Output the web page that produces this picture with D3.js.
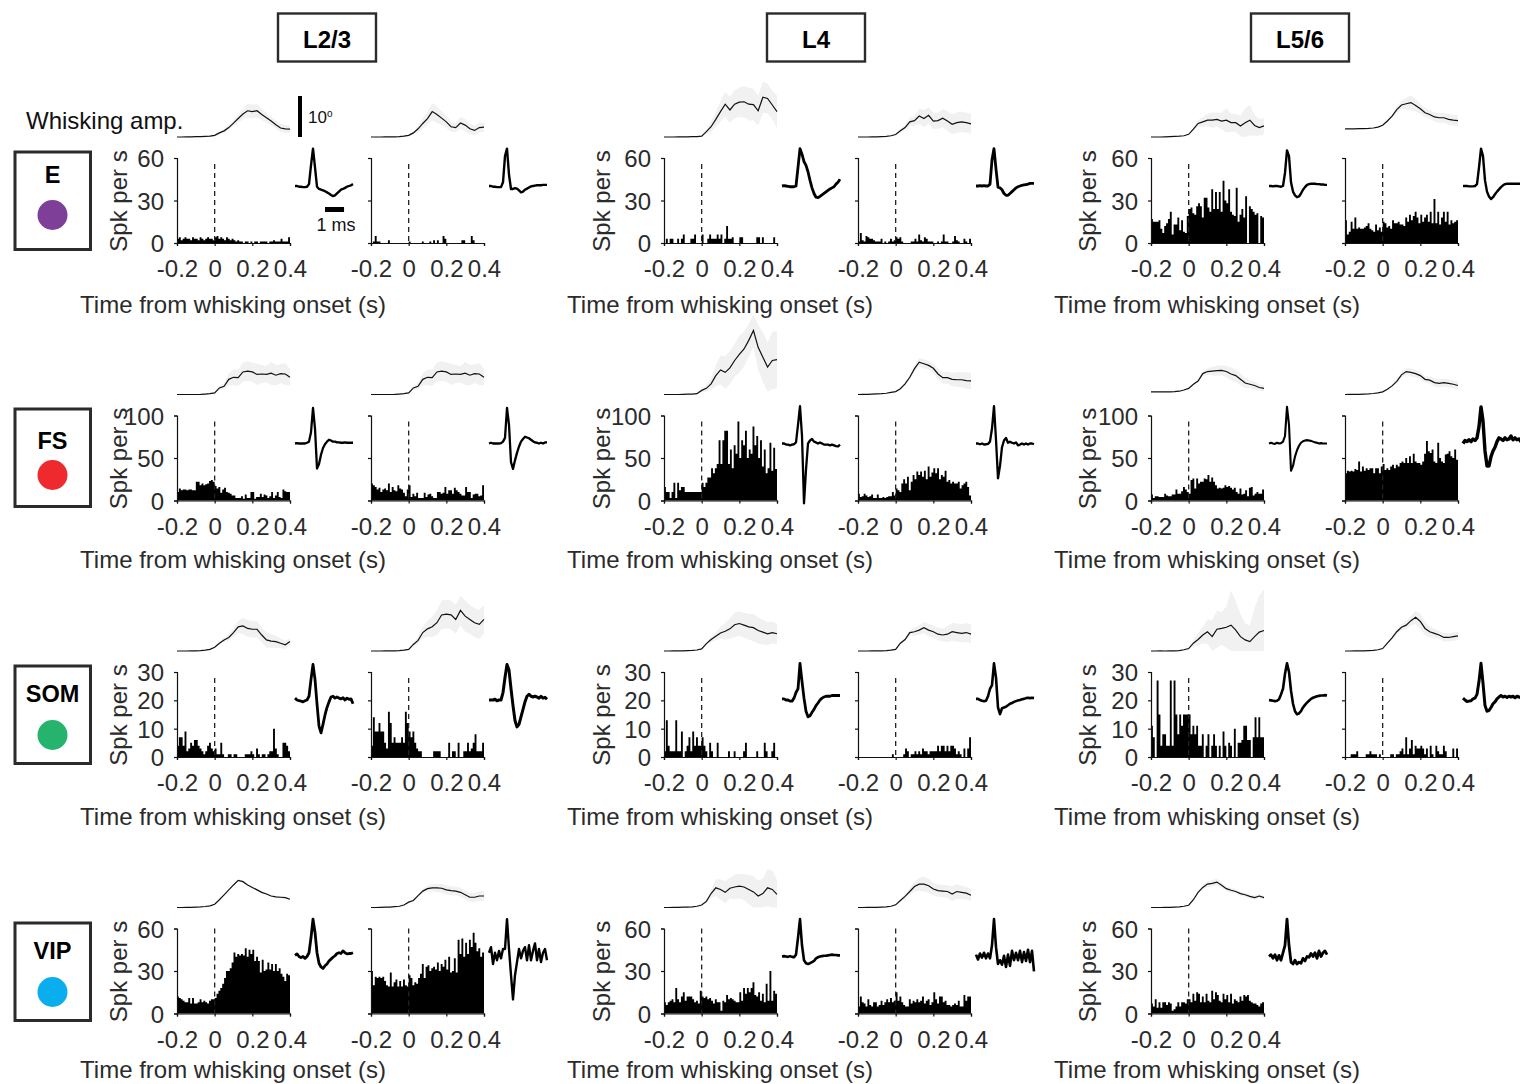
<!DOCTYPE html>
<html>
<head>
<meta charset="utf-8">
<title>Whisking onset PSTH</title>
<script src="https://cdn.jsdelivr.net/npm/d3@7"></script>
<style>
  html, body { margin: 0; padding: 0; background: #fff; }
  text { font-family: "Liberation Sans", Arial, sans-serif; fill: #2b2b2b; }
</style>
</head>
<body>
<div id="chart"></div>
<script>
const layers = ["L2/3", "L4", "L5/6"];
const cellTypes = ["E", "FS", "SOM", "VIP"];
const cellColors = ["#7d3f98", "#ee2a2e", "#26b36e", "#0aaeef"];
const yTicks = [[0, 30, 60], [0, 50, 100], [0, 10, 20, 30], [0, 30, 60]];
const xTicks = [-0.2, 0, 0.2, 0.4];

// spikes per s, 10 ms bins from -0.2 to 0.4 s
const histE = [
  [3,4,2,3,4,3,3,2,4,3,3,2,4,3,2,3,4,3,3,2,4,5,3,4,3,2,4,3,2,3,2,1,2,1,1,0,1,1,0,1,0,1,1,0,1,1,1,1,0,1,1,2,1,1,1,3,1,1,1,4],
  [0,1,5,1,1,0,0,0,0,2,0,0,0,0,0,0,0,0,0,0,1,0,0,0,0,0,0,1,0,0,0,1,0,2,0,2,0,0,5,3,0,0,0,0,0,0,0,0,2,2,0,0,0,5,2,0,0,0,0,0],
  [0,3,0,3,3,0,0,3,0,3,6,0,0,0,3,3,6,0,0,0,6,0,0,3,6,3,3,3,6,3,6,0,3,12,3,3,4,0,0,0,4,4,0,0,0,0,0,0,0,4,4,0,4,0,0,0,0,0,4,0],
  [1,7,2,1,5,4,3,3,2,1,1,1,3,0,1,0,1,3,1,2,4,3,4,1,0,0,0,0,1,1,3,1,6,2,1,4,3,1,1,1,0,0,1,0,1,6,1,1,0,0,1,5,2,1,0,0,3,1,0,3],
  [17,15,15,15,16,10,7,12,14,17,22,6,13,13,18,9,16,8,7,19,24,25,21,20,26,28,26,18,32,32,25,22,38,24,36,24,36,22,44,30,28,38,22,20,19,39,15,20,24,18,33,0,26,24,22,20,21,0,19,18],
  [16,6,8,15,10,18,10,11,10,10,11,12,14,10,9,8,13,9,11,8,15,14,11,12,10,16,14,14,15,13,13,12,18,15,20,16,19,22,18,14,20,15,18,20,15,22,14,31,14,22,13,18,22,15,22,13,16,14,15,16]
];
const histFS = [
  [10,14,12,13,13,12,13,13,12,12,22,22,18,20,18,19,20,23,24,22,17,14,16,9,13,15,10,9,8,6,6,3,3,3,5,2,7,3,3,10,10,2,4,4,8,4,7,6,3,5,10,3,6,10,4,3,13,11,10,10],
  [20,18,16,13,15,10,13,14,12,20,10,16,12,11,18,14,13,9,5,13,18,4,8,5,9,3,3,3,9,4,7,8,5,3,3,10,10,8,9,16,8,12,12,8,15,12,10,8,6,6,16,10,10,3,7,8,8,5,6,18],
  [16,10,10,3,10,21,3,21,12,16,16,10,10,10,10,10,10,10,10,10,21,16,21,27,27,38,32,38,43,71,43,71,82,82,43,60,38,65,55,93,50,71,65,82,50,60,55,87,65,76,50,71,40,60,32,38,68,35,62,37],
  [8,4,5,8,6,4,5,7,3,3,7,3,3,4,3,4,5,5,10,6,14,12,10,20,25,20,28,12,22,30,25,34,30,34,28,35,25,40,28,33,38,32,38,25,30,28,35,22,24,20,22,20,20,22,14,18,20,22,16,6],
  [7,3,5,5,4,4,4,8,6,5,5,7,7,13,8,8,11,16,13,10,8,24,26,14,26,20,22,22,26,25,30,22,27,22,18,14,15,14,15,18,16,17,15,13,15,10,8,14,7,8,12,5,15,16,6,8,10,8,8,13],
  [32,35,34,35,34,37,36,46,34,40,35,38,36,38,38,32,38,38,32,40,43,36,38,36,40,42,38,42,40,44,46,44,50,44,52,44,55,46,44,44,42,46,55,70,58,56,60,46,44,68,50,46,44,54,55,58,52,50,60,48]
];
const histSOM = [
  [4,7,7,4,9,2,3,5,4,6,6,4,3,2,1,2,4,5,3,2,3,1,1,5,1,0,0,1,1,0,1,1,0,0,0,0,1,1,1,2,1,0,3,1,0,1,1,0,1,2,2,10,3,1,0,0,5,5,4,2],
  [4,14,9,9,12,9,9,5,3,16,12,5,7,5,5,5,7,5,16,12,9,7,9,5,3,2,2,0,0,0,0,0,0,2,2,2,2,0,0,0,0,5,0,2,2,0,5,0,0,2,2,5,2,3,5,8,2,2,2,5],
  [2,13,4,2,2,2,13,2,2,9,0,2,4,7,2,9,4,7,4,4,7,4,2,0,5,2,0,0,5,0,0,0,0,0,2,0,0,2,0,0,0,0,2,5,0,0,0,0,0,2,0,0,0,5,2,0,0,2,5,0],
  [0,0,0,0,0,0,0,0,0,0,0,0,0,0,0,0,0,0,1,0,0,0,0,0,1,3,2,0,1,1,2,1,2,1,3,2,2,1,2,2,2,2,4,2,4,4,2,4,2,4,4,3,1,2,1,0,3,0,3,7],
  [11,7,0,27,15,4,8,8,4,4,27,4,27,15,8,15,11,15,15,15,15,8,11,8,11,4,4,8,0,4,8,0,4,8,4,0,4,0,9,4,0,5,4,0,10,0,5,5,6,11,11,6,6,0,7,14,7,14,7,7],
  [0,0,0,1,1,1,2,0,0,0,0,1,1,2,1,1,1,0,1,0,0,0,0,0,1,1,0,1,1,2,3,1,7,1,3,6,1,4,3,3,4,3,1,3,0,4,1,0,4,2,1,1,4,2,0,0,0,3,0,3]
];
const histVIP = [
  [12,11,10,9,8,8,11,7,11,7,7,8,10,8,9,8,7,9,10,10,11,14,16,18,21,25,30,30,32,36,43,40,42,41,42,41,46,40,45,42,45,37,40,37,29,38,30,31,36,31,35,30,35,30,32,28,26,23,28,27],
  [30,20,26,25,26,25,26,23,20,19,29,19,22,24,19,23,19,24,20,19,27,25,20,22,21,25,28,35,25,33,34,30,32,33,31,36,30,35,33,38,31,40,29,30,39,29,52,42,53,40,50,42,52,47,57,50,44,46,40,43],
  [8,6,8,9,10,8,18,10,8,12,15,9,12,12,12,10,8,9,7,16,12,11,12,10,11,9,7,10,8,8,2,9,8,13,10,11,10,9,8,8,15,9,18,14,18,15,18,22,13,12,15,9,14,8,21,9,30,9,16,14],
  [5,12,8,7,5,10,6,5,8,8,5,6,9,6,8,10,8,11,8,9,15,9,12,8,6,5,5,10,7,9,8,10,8,9,12,7,9,10,6,8,15,10,7,12,12,8,9,6,6,5,6,7,6,9,5,5,13,9,12,12],
  [7,5,10,4,8,4,8,8,6,8,7,2,3,5,8,5,8,8,7,10,10,8,14,9,15,14,8,12,8,14,9,8,16,10,15,13,9,8,14,10,13,8,14,7,10,9,8,12,9,13,12,13,9,8,7,7,6,5,7,8]
];

// whisking amplitude in degrees, 25 ms steps from -0.2 to 0.4 s
const whiskE = [
  [0,0,.05,.05,.1,.1,.15,.2,.4,1,1.5,2.3,3.4,4.5,5.6,6.4,6.2,6.4,5.5,4.7,3.9,3,2.2,2,1.9],
  [0,0,0,.02,.05,.05,.1,.2,.4,1,2,3.3,4.5,6.2,5.5,4.6,3.7,2.5,2.3,3.4,2.9,2,1.6,2.3,2.4],
  [0,0,0,.05,.05,.05,.1,.1,.2,1.3,2.5,4.3,6.2,8,6.6,8,8.5,8.6,8,7.9,6.4,9.7,9.4,7.8,6.2],
  [0,0,0,.05,.05,.1,.15,.3,.6,1.5,2.3,3.7,4,5.1,4.5,5.3,3.9,4,4.6,3.9,3.1,3.5,3.7,3.5,3.2],
  [0,0,0,.05,.1,.15,.2,.3,.65,1.9,3.3,3.7,4.1,4.1,4.3,3.9,4.1,3.5,3.5,2.7,3.5,4.1,2.8,2.3,2.7],
  [2,2,2,2.05,2.05,2.1,2.2,2.4,2.85,3.9,5.1,6.7,7.8,8.1,8.4,7.7,6.9,5.9,5.5,4.9,4.7,4.7,4.3,4.1,4]
];
const bandE = [
  [0,0,0,0,0,0,0,.1,.2,.3,.4,.6,.8,1,1.3,1.8,1.7,1.6,1.4,1.2,1,1,1,1,.9],
  [0,0,0,0,0,0,0,.1,.2,.4,.8,1.2,1.6,2.1,2,1.7,1.5,1.2,1.1,1.5,1.4,1.3,1.2,1.2,1.1],
  [0,0,0,0,0,0,0,.1,.2,.5,1.2,1.8,2.5,3,3.2,3.4,3.6,3.8,4,3.8,3.6,3.8,3.6,3.5,4],
  [0,0,0,0,0,0,0,.1,.2,.4,.7,1,1.2,1.8,2.1,2,2,2,2.2,2.4,2.4,2.5,2.5,2.4,2.4],
  [0,0,0,0,0,0,0,0,.1,.4,.8,1.2,1.5,1.9,1.7,2,3,2.2,2.2,2.5,3.5,3.7,2.5,2,2],
  [0,0,0,0,0,0,0,.1,.2,.3,.4,.8,1,1.4,1.8,1.5,1.2,1.1,1,1.1,1.2,1.2,1.3,1.3,1.4]
];
const whiskFS = [
  [0,0,0,0,0,.02,.1,.2,.4,1.6,2,3.7,4.2,4.1,5.5,5.7,5.5,4.9,5,4.9,5.2,4.7,5.1,5,4.2],
  [0,0,0,0,0,.02,.1,.2,.4,1.6,2,3.7,4.2,4.1,5.5,5.7,5.5,4.9,5,4.9,5.2,4.7,5.1,5,4.2],
  [0,0,0,0,.05,.1,.1,.2,1,1.5,2.6,4.6,6,5.4,6.5,8.3,9.8,11.1,13.2,15.6,11.5,9.1,6.7,8.3,8.5],
  [0,.02,.05,.1,.15,.2,.3,.5,.7,1.4,2.6,4.2,6.3,7.9,7.5,7.1,6.4,5,4.1,4.1,3.7,3.6,3.6,3.4,3.3],
  [.65,.65,.65,.65,.65,.7,.8,1.1,1.5,2.5,3.3,5.1,5.6,5.7,5.8,5.9,5.6,5,4.6,3.7,2.8,2.5,2.2,1.7,1.5],
  [0,.02,.05,.05,.1,.15,.25,.4,.65,1.3,2.1,3.2,4.8,5.6,5.4,5.1,4.6,3.7,3.5,2.9,2.7,2.9,2.7,2.5,2.2]
];
const bandFS = [
  [0,0,0,0,0,0,0,.1,.2,.5,.8,1.5,1.9,2,2.3,2.4,2.3,2.6,2.2,2,2.8,2.5,2.3,2.7,2],
  [0,0,0,0,0,0,0,.1,.2,.5,.8,1.5,1.9,2,2.3,2.4,2.3,2.6,2.2,2,2.8,2.5,2.3,2.7,2],
  [0,0,0,0,0,0,0,.1,.4,.8,1.5,2.5,3.5,4,4,4,4.5,4.2,4,4,5.5,6,6,7,7],
  [0,0,0,0,0,0,0,0,.1,.2,.4,.6,.8,1,1.1,1,1.2,1.2,1.4,1.5,1.6,1.8,1.8,2,2],
  [0,0,0,0,0,0,0,0,.1,.2,.4,.6,.8,1,1.2,1.2,1.4,1.6,1.5,1.5,1.2,1,1,.8,.7],
  [0,0,0,0,0,0,0,0,.1,.2,.3,.5,.7,.8,1,.9,.9,.8,.9,1,1,1,1,1,1]
];
const whiskSOM = [
  [0,0,0,.05,.05,.1,.2,.4,.9,1.9,2.7,3.3,4.5,5.9,6.1,5.5,5.3,5.3,3.9,2.7,2.4,2.3,1.9,1.5,2.3],
  [0,0,0,.02,.05,.05,.1,.2,.4,1.6,2.6,4.5,5.4,5.9,6.9,8.8,9,8.8,7.7,9.9,8.5,7.7,6.9,6.5,7.7],
  [0,0,.02,.05,.05,.1,.15,.25,.5,1.8,2.8,3.6,4.4,4.8,5.4,6.4,6.7,6.3,5.9,5.7,5,4.6,4.2,4.5,4.2],
  [0,0,0,.02,.05,.05,.1,.2,.4,1.9,2.8,4.5,4.7,5.1,5.7,5.1,4.7,4.1,3.9,4.1,4.7,4.5,4.3,4.5,4.1],
  [0,0,.05,0,.02,.05,.1,.3,.6,1.9,2.8,3.9,4.7,3.5,5.3,5.5,5.8,6.3,5.1,3.5,2.7,2.3,3.5,4.6,5],
  [0,0,.02,.05,.05,.1,.15,.3,.6,1.9,3.2,4.7,5.8,6.3,7.4,8.2,7.2,5.5,4.7,4.3,3.9,3.3,3.3,3.5,3.7]
];
const bandSOM = [
  [0,0,0,0,0,0,0,0,.1,.3,.5,.8,1,1.5,2,2,2,2,1.8,1.9,1.6,1.5,1.2,1,.8],
  [0,0,0,0,0,0,0,0,.1,.4,.8,1.4,2,2.5,3,3.5,3.5,3.5,3.5,3.6,3.8,3.5,3.5,3.5,3.5],
  [0,0,0,0,0,0,0,0,.1,.3,.6,1,1.5,2,2.5,3,3,3,3.1,3.3,3.2,3,2.8,2.7,2.5],
  [0,0,0,0,0,0,0,0,.1,.2,.4,.6,1,1.2,1.4,1.5,1.5,1.5,1.5,1.9,2.2,2.2,2.2,2.3,2.3],
  [0,0,0,0,0,0,0,.1,.3,.8,1.5,2,3,4,4.5,4,5,8.5,7,5.5,4,4,7,9,10],
  [0,0,0,0,0,0,0,0,.1,.2,.4,.6,.8,1,1.2,1.6,1.9,1.6,1.3,1.1,1,1,1,1,1]
];
const whiskVIP = [
  [0,0,.02,.05,.1,.15,.25,.4,.8,1.9,3.1,4.3,5.5,6.6,6.3,5.5,4.9,4.3,3.7,3.3,2.8,2.6,2.5,2.4,2],
  [0,0,.05,.1,.1,.2,.3,.6,1.3,1.7,2.9,4,4.6,4.8,4.8,4.7,4.3,4.1,4,3.7,3.1,2.5,2.5,2.8,2.8],
  [0,0,.05,.05,.1,.1,.15,.3,.6,1.5,3.4,4.8,4.4,3.7,4.7,5,5.2,5,4.4,3.8,2.8,3.4,4.8,4.4,3.2],
  [0,0,.02,.05,.05,.1,.15,.3,.65,1.7,2.7,3.9,5.1,5.7,5.7,5.3,4.5,4.1,4,3.9,3.3,3.9,3.7,3.5,3],
  [0,0,0,.02,.05,.1,.15,.3,.55,1.9,3.7,4.9,5.7,5.9,6.2,5.4,4.6,4.2,3.9,3.4,3.1,2.7,2.4,2.8,2.4]
];
const bandVIP = [
  [0,0,0,0,0,0,0,0,0,.1,.1,.1,.2,.2,.2,.2,.2,.2,.2,.2,.2,.2,.2,.2,.2],
  [0,0,0,0,0,0,0,0,.1,.2,.3,.5,.7,.9,1,1.1,1.1,1.1,1.1,1.1,1.1,1.1,1.1,1.2,1.3],
  [0,0,0,0,0,0,0,0,.2,.5,1,2,2.5,2.7,2.5,3,3,3.2,3.6,3.8,3.8,3.6,4.5,4.7,3.5],
  [0,0,0,0,0,0,0,0,.1,.3,.5,.8,1.2,1.6,1.8,1.7,1.5,1.5,1.5,1.5,1.8,1.8,1.6,1.5,1.5],
  [0,0,0,0,0,0,0,0,.1,.2,.3,.5,.7,.8,.8,.7,.6,.6,.5,.5,.5,.5,.5,.5,.4]
];

// spike waveforms, 0.105 ms per sample, spike peak = 1
const waveE = [
  [0,0,-.02,-.02,-.03,-.03,-.02,.05,.55,1,.5,-.02,-.08,-.1,-.12,-.14,-.17,-.2,-.24,-.27,-.25,-.2,-.15,-.1,-.08,-.05,-.02,0,.02,.05],
  [0,0,-.02,-.02,-.03,-.03,-.03,.1,.8,1,.3,-.08,-.08,-.06,-.07,-.12,-.17,-.15,-.1,-.07,-.04,-.01,0,.01,.02,.02,.02,.03,.03,.03],
  [0,.01,0,-.01,-.02,-.02,-.02,0,.5,1,.85,.65,.55,.38,.15,-.05,-.2,-.3,-.31,-.28,-.24,-.2,-.16,-.12,-.08,-.05,-.02,.05,.1,.18],
  [0,0,.01,0,.01,0,0,.05,.7,1,.45,-.03,-.05,-.1,-.2,-.25,-.25,-.2,-.15,-.1,-.05,-.02,0,.02,.03,.04,.05,.07,.07,.07],
  [0,0,-.01,0,0,-.01,-.02,0,.35,.95,.8,.1,-.15,-.25,-.3,-.28,-.2,-.1,-.03,.03,.05,.06,.06,.06,.05,.05,.04,.04,.03,.03],
  [0,0,0,-.01,-.01,-.01,0,.05,.5,1,.8,.15,-.15,-.28,-.35,-.3,-.22,-.15,-.09,-.03,.02,.05,.06,.06,.06,.06,.06,.06,.06,.06]
];
const waveFS = [
  [0,.01,0,0,0,0,.02,.05,.3,.95,.4,-.67,-.55,-.3,-.12,-.02,.05,.1,.08,.05,.05,.03,.03,.02,.02,.03,.02,.02,.02,.02],
  [0,.02,0,0,0,0,.01,.05,.15,.95,.5,-.5,-.68,-.45,-.25,-.08,.05,.12,.18,.16,.14,.1,.06,.03,.02,0,.02,0,.03,.03],
  [0,0,-.03,-.03,-.05,-.03,-.02,.03,.5,1,.2,-1.6,-.7,0,.08,.12,.05,.03,0,.03,0,-.03,-.03,-.03,-.05,-.03,-.05,-.07,-.08,-.03],
  [0,0,-.02,0,-.03,-.02,-.01,.05,.4,1,.1,-.93,-.6,-.1,.08,.15,.02,.05,.02,0,.03,-.05,-.03,0,-.03,0,-.03,0,0,-.02],
  [0,.02,0,-.01,.02,0,.01,.05,.2,.98,.5,-.73,-.6,-.35,-.18,-.06,.02,.06,.08,.09,.08,.07,.05,.03,.02,0,.01,0,0,0],
  [0,.08,.05,.1,.05,.12,.08,.15,.45,.98,.6,-.2,-.6,-.6,-.35,-.2,-.1,.05,.15,.12,.08,.15,.1,.12,.2,.1,.15,.1,.12,.05]
];
const waveSOM = [
  [.05,0,-.02,-.03,-.05,-.02,0,.1,.55,.95,.55,-.1,-.7,-.88,-.65,-.4,-.2,-.05,.08,.1,.05,.08,.05,.03,.06,0,.05,.02,.03,-.1],
  [0,0,0,.02,-.02,0,0,.2,.6,.95,.8,.3,-.15,-.55,-.72,-.65,-.45,-.25,-.05,.1,.15,.1,.08,.1,.08,.05,.1,.05,.07,.02],
  [.03,.03,0,0,-.03,-.03,.05,.2,.3,.98,.5,.05,-.3,-.45,-.42,-.33,-.25,-.15,-.08,0,.05,.08,.1,.1,.1,.12,.12,.12,.12,.12],
  [.03,.03,0,-.02,-.03,-.02,.1,.3,.4,.98,.6,-.2,-.38,-.22,-.2,-.18,-.14,-.1,-.08,-.05,-.03,-.01,0,.02,.03,.05,.06,.05,.06,.05],
  [0,-.01,-.02,-.03,-.02,.02,.15,.3,.7,.98,.75,.25,-.1,-.3,-.38,-.36,-.3,-.2,-.13,-.07,-.02,.03,.06,.08,.1,.11,.12,.12,.13,.12],
  [.05,0,-.04,-.03,-.02,.03,.05,.15,.5,.98,.45,-.15,-.3,-.28,-.2,-.1,-.05,.03,.08,.12,.08,.1,.07,.1,.08,.1,.06,.1,.08,.06]
];
const waveVIP = [
  [.03,.07,0,-.03,0,-.05,0,.1,.5,1,.65,.1,-.18,-.28,-.32,-.25,-.2,-.12,-.07,-.02,.02,.08,.1,.08,.15,.1,.07,.08,.08,.1],
  [.1,.25,-.2,.1,-.1,.15,-.05,.2,.2,1,.2,-.5,-1.15,-.5,-.15,.2,-.05,.15,.25,-.1,.3,-.1,.15,.35,-.1,.2,-.15,.1,.2,-.1],
  [0,.01,0,-.01,.01,-.01,-.02,.05,.5,1,.3,-.1,-.18,-.2,-.18,-.15,-.12,-.05,-.02,0,.01,.02,.02,.03,.04,.05,.04,.04,.03,.03],
  [.05,-.08,.08,-.03,.1,-.05,.08,-.05,.3,1,.25,-.2,-.1,-.22,.02,-.28,.05,-.25,.15,-.1,.1,-.1,.15,-.15,.12,-.12,.18,-.15,.15,-.4],
  [0,.05,-.05,.05,-.1,.03,-.1,.1,.3,1,.3,-.15,-.2,-.1,-.2,-.15,-.18,-.05,-.12,0,-.02,.08,0,.1,-.05,.15,0,.1,.15,.05]
];
const waveStroke = [
  [2.4, 2.4, 2.8, 2.8, 2.4, 2.4],
  [2.3, 2.3, 2.3, 2.3, 2.1, 3.4],
  [2.8, 3, 2.8, 2.6, 2.6, 3],
  [2.8, 2.4, 2.6, 2.6, 2.8]
];

const hists = [histE, histFS, histSOM, histVIP];
const whisks = [whiskE, whiskFS, whiskSOM, whiskVIP];
const bands = [bandE, bandFS, bandSOM, bandVIP];
const waves = [waveE, waveFS, waveSOM, waveVIP];

const width = 1520, height = 1084;
const panelLeft = [177, 371, 664, 858, 1151, 1345];
const rowTop = [158, 415.5, 672, 928.5];
const panelW = 113, panelH = 85;
const boxTop = [152, 409, 666, 923];
const boxLabelOff = [31, 40, 36, 36];
const boxDotOff = [63, 66, 69, 69];
const xLabelOff = [70, 67, 67.5, 64.5];
const yLabelX = [120, 603, 1089];
const dashTop = [6, 6, 6, 0];
const fontSize = 24;

const svg = d3.select("#chart").append("svg")
  .attr("width", width)
  .attr("height", height);

// layer headers
[[278, 98], [767, 98], [1251, 98]].forEach(function(b, i) {
  svg.append("rect")
    .attr("x", b[0]).attr("y", 13.5)
    .attr("width", b[1]).attr("height", 48)
    .attr("fill", "none").attr("stroke", "#2b2b2b").attr("stroke-width", 2.4);
  svg.append("text")
    .attr("x", b[0] + b[1] / 2).attr("y", 48)
    .attr("text-anchor", "middle")
    .attr("font-size", 24).attr("font-weight", "bold")
    .style("fill", "#000")
    .text(layers[i]);
});

const x = d3.scaleLinear().domain([-0.2, 0.4]).range([0, panelW]);
const binTimes = d3.range(61).map(function(i) { return -0.2 + i * 0.01; });
const whiskTimes = d3.range(25).map(function(i) { return -0.2 + i * 0.025; });
const yWhisk = d3.scaleLinear().domain([0, 10]).range([0, -41]);
const xWave = d3.scaleLinear().domain([0, 29]).range([0, 58]);
const yWave = d3.scaleLinear().domain([0, 1]).range([0, -37.4]);

const whiskLine = d3.line().x(function(d, i) { return x(whiskTimes[i]); }).y(function(d) { return yWhisk(d); });
const waveLine = d3.line().x(function(d, i) { return xWave(i); }).y(function(d) { return yWave(d); });

cellTypes.forEach(function(cell, r) {
  const top = rowTop[r];
  const y = d3.scaleLinear().domain([0, d3.max(yTicks[r])]).range([panelH, 0]);

  // cell type box
  svg.append("rect")
    .attr("x", 15).attr("y", boxTop[r])
    .attr("width", 75.5).attr("height", 97.5)
    .attr("fill", "none").attr("stroke", "#2b2b2b").attr("stroke-width", 3);
  svg.append("text")
    .attr("x", 52.5).attr("y", boxTop[r] + boxLabelOff[r])
    .attr("text-anchor", "middle")
    .attr("font-size", 23.5).attr("font-weight", "bold")
    .style("fill", "#000")
    .text(cell);
  svg.append("circle")
    .attr("cx", 52.5).attr("cy", boxTop[r] + boxDotOff[r])
    .attr("r", 15)
    .attr("fill", cellColors[r]);

  hists[r].forEach(function(values, p) {
    const left = panelLeft[p];
    const g = svg.append("g").attr("transform", "translate(" + left + "," + top + ")");

    // whisking amplitude with shaded error
    const w = g.append("g").attr("transform", "translate(0,-21)");
    const area = d3.area()
      .x(function(d, i) { return x(whiskTimes[i]); })
      .y0(function(d, i) { return yWhisk(Math.max(0, whisks[r][p][i] - d)); })
      .y1(function(d, i) { return yWhisk(whisks[r][p][i] + d); });
    w.append("path").attr("d", area(bands[r][p])).attr("fill", "#f1f1f1");
    w.append("path").attr("d", whiskLine(whisks[r][p]))
      .attr("fill", "none").attr("stroke", "#111").attr("stroke-width", 1.2);

    // histogram, one step outline so dense bins stay solid
    const histArea = d3.area()
      .curve(d3.curveStepAfter)
      .x(function(d, i) { return x(binTimes[i]); })
      .y0(y(0))
      .y1(function(d) { return y(d); });
    g.append("path")
      .attr("d", histArea(values.concat(values[values.length - 1])))
      .attr("fill", "#000");

    // axes
    const xAxis = d3.axisBottom(x).tickValues(xTicks).tickSize(3).tickPadding(14)
      .tickFormat(function(d) { return d === 0 ? "0" : String(d); });
    const gx = g.append("g").attr("transform", "translate(0," + panelH + ")").call(xAxis);
    gx.selectAll("text").attr("font-size", fontSize).style("font-family", '"Liberation Sans", Arial, sans-serif');
    const yAxis = d3.axisLeft(y).tickValues(yTicks[r]).tickSize(3).tickPadding(10);
    if (p % 2 === 1) yAxis.tickFormat("");
    const gy = g.append("g").call(yAxis);
    gy.selectAll("text").attr("font-size", fontSize).style("font-family", '"Liberation Sans", Arial, sans-serif');
    gy.selectAll(".tick text").attr("dy", "0.36em");
    [gx, gy].forEach(function(a) {
      a.selectAll("path").attr("stroke", "#111").attr("stroke-width", 1.2);
      a.selectAll("line").attr("stroke", "#111").attr("stroke-width", 1.2);
    });

    // whisking onset marker
    g.append("line")
      .attr("x1", x(0)).attr("x2", x(0))
      .attr("y1", dashTop[r]).attr("y2", panelH)
      .attr("stroke", "#222").attr("stroke-width", 1.3)
      .attr("stroke-dasharray", "5,4");

    // spike waveform
    g.append("path")
      .attr("transform", "translate(" + (panelW + 5) + ",28)")
      .attr("d", waveLine(waves[r][p]))
      .attr("fill", "none").attr("stroke", "#000")
      .attr("stroke-width", waveStroke[r][p]).attr("stroke-linejoin", "round");
  });

  // y and x labels, one per layer
  layers.forEach(function(l, c) {
    svg.append("text")
      .attr("transform", "translate(" + (yLabelX[c] + 7) + "," + (top + 43) + ") rotate(-90)")
      .attr("text-anchor", "middle")
      .attr("font-size", fontSize)
      .text("Spk per s");
    svg.append("text")
      .attr("x", panelLeft[c * 2] + 56).attr("y", top + panelH + xLabelOff[r])
      .attr("text-anchor", "middle")
      .attr("font-size", fontSize)
      .text("Time from whisking onset (s)");
  });
});

// annotations
svg.append("text").attr("x", 26).attr("y", 129).attr("font-size", 24).style("fill", "#111").text("Whisking amp.");
svg.append("rect").attr("x", 298).attr("y", 96).attr("width", 4).attr("height", yWhisk(0) - yWhisk(10)).attr("fill", "#000");
const deg = svg.append("text").attr("x", 308).attr("y", 123).attr("font-size", 17).style("fill", "#111");
deg.append("tspan").text("10");
deg.append("tspan").attr("dy", -6).attr("font-size", 10).text("o");
svg.append("rect").attr("x", 325).attr("y", 207).attr("width", xWave(1 / 0.105)).attr("height", 5).attr("fill", "#000");
svg.append("text").attr("x", 336).attr("y", 231).attr("text-anchor", "middle").attr("font-size", 18).style("fill", "#111").text("1 ms");
</script>
</body>
</html>
